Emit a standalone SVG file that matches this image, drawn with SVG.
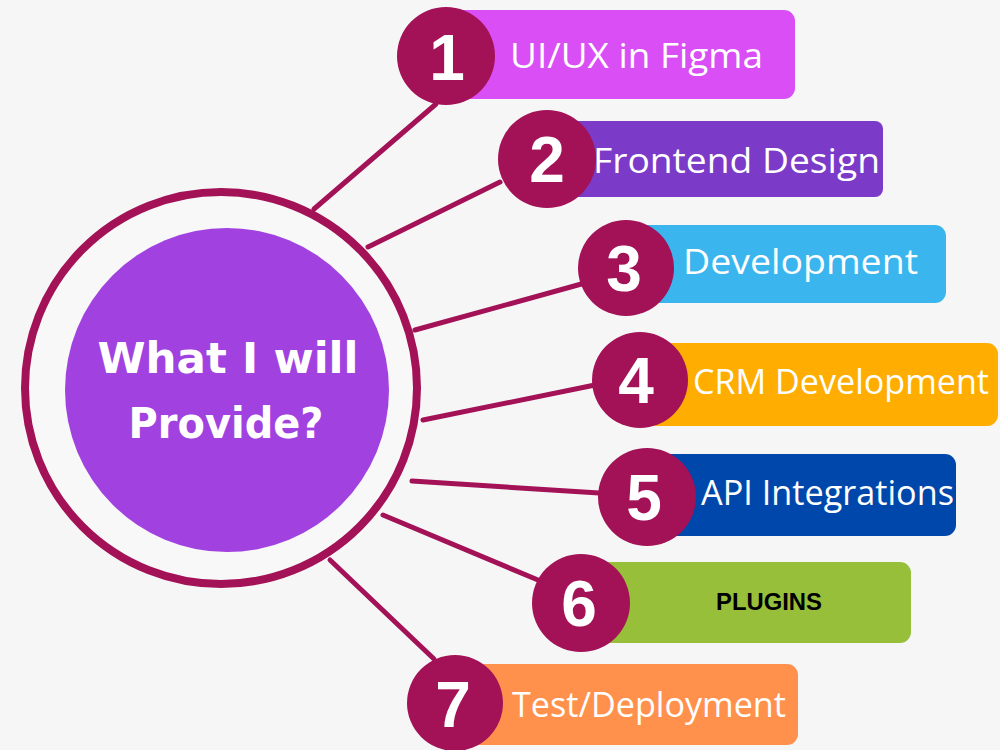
<svg xmlns="http://www.w3.org/2000/svg" width="1000" height="750" viewBox="0 0 1000 750">
<style>
.bar-label{font-family:"Open Sans","Noto Sans",sans-serif;font-size:35px;fill:#ffffff}
.num{font-family:"Liberation Sans","DejaVu Sans",sans-serif;font-weight:bold;font-size:64px;fill:#ffffff;text-anchor:middle}
.dot{fill:#A31157}
.conn{stroke:#A31157;stroke-width:5;fill:none;stroke-linecap:round}
.title{font-family:"DejaVu Sans","Liberation Sans",sans-serif;font-weight:bold;font-size:43px;fill:#ffffff;text-anchor:middle}
</style>
<rect width="1000" height="750" fill="#F6F6F6"/>
<g id="connectors">
<line class="conn" x1="314" y1="209" x2="436" y2="104"/>
<line class="conn" x1="368" y1="247" x2="500" y2="182"/>
<line class="conn" x1="415" y1="330" x2="585" y2="283"/>
<line class="conn" x1="423" y1="420" x2="595" y2="385"/>
<line class="conn" x1="412" y1="481" x2="599" y2="493"/>
<line class="conn" x1="383" y1="515" x2="538" y2="580"/>
<line class="conn" x1="330" y1="560" x2="434" y2="659"/>
</g>
<g id="center">
<circle cx="221" cy="388" r="196" fill="#F8F8F8" stroke="#A31157" stroke-width="8"/>
<circle cx="227" cy="390" r="162" fill="#A142E0"/>
<text class="title" x="228" y="373" textLength="261" lengthAdjust="spacingAndGlyphs">What I will</text>
<text class="title" x="226" y="438" textLength="195" lengthAdjust="spacingAndGlyphs">Provide?</text>
</g>
<g id="item1">
<rect x="446" y="10" width="349" height="89" rx="11" fill="#D94FF5"/>
<circle class="dot" cx="446" cy="56" r="49"/>
<text class="num" x="447" y="80">1</text>
<text class="bar-label" x="510" y="68" textLength="253" lengthAdjust="spacingAndGlyphs">UI/UX in Figma</text>
</g>
<g id="item2">
<rect x="547" y="121" width="336" height="76" rx="8" fill="#7B3AC8"/>
<circle class="dot" cx="547" cy="159" r="49"/>
<text class="num" x="547" y="182">2</text>
<text class="bar-label" x="593" y="173" textLength="287" lengthAdjust="spacingAndGlyphs">Frontend Design</text>
</g>
<g id="item3">
<rect x="626" y="225" width="320" height="78" rx="11" fill="#3BB5EE"/>
<circle class="dot" cx="626" cy="268" r="48"/>
<text class="num" x="624" y="291">3</text>
<text class="bar-label" x="683" y="274" textLength="235" lengthAdjust="spacingAndGlyphs">Development</text>
</g>
<g id="item4">
<rect x="640" y="343" width="358" height="83" rx="11" fill="#FFAD00"/>
<circle class="dot" cx="640" cy="380" r="48"/>
<text class="num" x="636" y="403">4</text>
<text class="bar-label" x="693" y="394" textLength="296" lengthAdjust="spacingAndGlyphs">CRM Development</text>
</g>
<g id="item5">
<rect x="647" y="454" width="309" height="82" rx="11" fill="#0047AB"/>
<circle class="dot" cx="647" cy="497" r="49"/>
<text class="num" x="644" y="520">5</text>
<text class="bar-label" x="701" y="505" textLength="253" lengthAdjust="spacingAndGlyphs">API Integrations</text>
</g>
<g id="item6">
<rect x="581" y="562" width="330" height="81" rx="11" fill="#97BF3A"/>
<circle class="dot" cx="581" cy="603" r="49"/>
<text class="num" x="579" y="626">6</text>
<text x="716" y="610" font-family="'Liberation Sans',Arial,sans-serif" font-weight="bold" font-size="23" fill="#000000" textLength="106" lengthAdjust="spacingAndGlyphs">PLUGINS</text>
</g>
<g id="item7">
<rect x="455" y="664" width="343" height="81" rx="11" fill="#FF914D"/>
<circle class="dot" cx="455" cy="703" r="48"/>
<text class="num" x="453" y="727">7</text>
<text class="bar-label" x="512" y="717" textLength="274" lengthAdjust="spacingAndGlyphs">Test/Deployment</text>
</g>
</svg>
